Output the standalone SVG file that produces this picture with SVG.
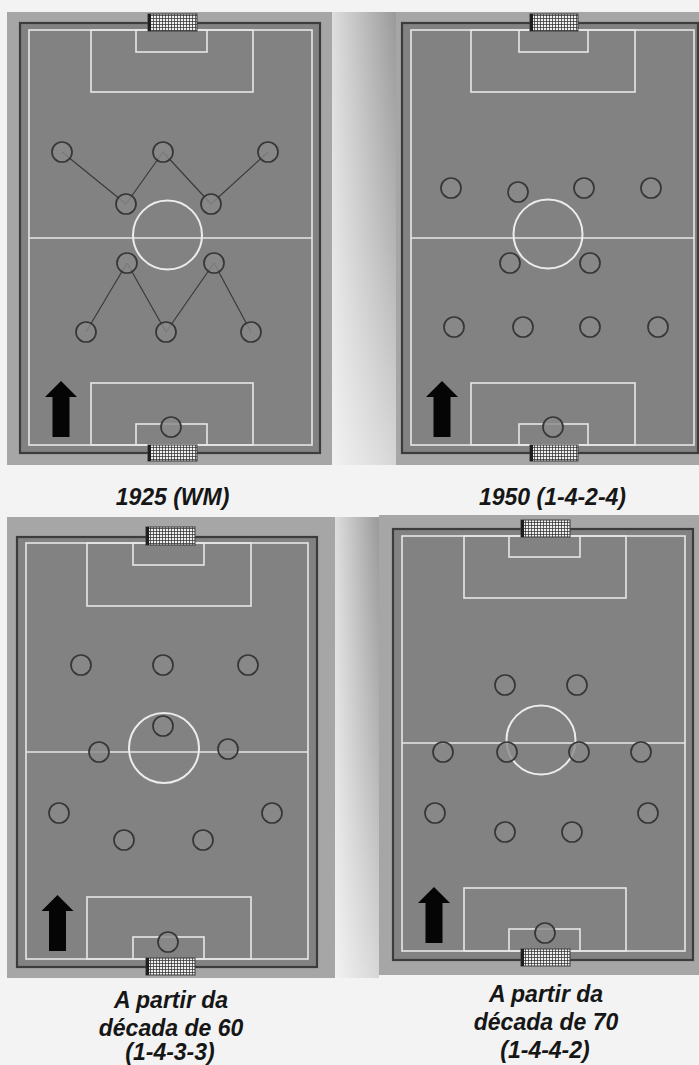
<svg xmlns="http://www.w3.org/2000/svg" width="699" height="1065" viewBox="0 0 699 1065">
<defs>
<style>
.panel{fill:#a6a6a6}
.pitch{fill:#828282;stroke:#3c3c3c;stroke-width:2.2}
.wl{fill:none;stroke:#e6e6e6;stroke-width:1.6}
.cc{fill:none;stroke:#ececec;stroke-width:2}
.pl{fill:#8a8a8a;fill-opacity:0.8;stroke:#363636;stroke-width:1.7}
.net{fill:url(#netpat);stroke:#3a3a3a;stroke-width:1}
.netbar{fill:#1e1e1e}
.arrow{fill:#050505}
.lbl{font-family:"Liberation Sans",Arial,sans-serif;font-size:23px;font-weight:bold;font-style:italic;fill:#161616;text-anchor:middle}
.conn{stroke:#3a3a3a;stroke-width:1.2;fill:none}
</style>
<pattern id="netpat" width="3" height="3" patternUnits="userSpaceOnUse">
<rect width="3" height="3" fill="#efefef"/>
<path d="M0 0.4H3M0.4 0V3" stroke="#2a2a2a" stroke-width="0.8"/>
</pattern>
<linearGradient id="gapH" x1="0" y1="0" x2="1" y2="0">
<stop offset="0" stop-color="#dedede"/>
<stop offset="1" stop-color="#9a9a9a"/>
</linearGradient>
<linearGradient id="fadeV" x1="0" y1="0" x2="0" y2="1">
<stop offset="0" stop-color="#ffffff" stop-opacity="0"/>
<stop offset="0.5" stop-color="#ffffff" stop-opacity="0.25"/>
<stop offset="1" stop-color="#ffffff" stop-opacity="0.6"/>
</linearGradient>
<polygon id="arr" points="0,0 16,16 8.5,16 8.5,56 -8.5,56 -8.5,16 -16,16"/>
</defs>

<rect x="0" y="0" width="699" height="1065" fill="#f3f3f3"/>

<!-- background panels -->
<g id="backgrounds">
<rect class="panel" x="7" y="12" width="325" height="453"/>
<rect x="332" y="12" width="64" height="453" fill="url(#gapH)"/>
<rect x="332" y="12" width="64" height="453" fill="url(#fadeV)"/>
<rect class="panel" x="396" y="12" width="303" height="453"/>
<rect class="panel" x="7" y="517" width="328" height="461"/>
<rect x="335" y="517" width="44" height="461" fill="url(#gapH)"/>
<rect x="335" y="517" width="44" height="461" fill="url(#fadeV)"/>
<rect class="panel" x="379" y="515" width="320" height="460"/>
</g>

<!-- Pitch 1: 1925 (WM) -->
<g id="pitch-1925">
<rect class="pitch" x="20" y="23" width="300" height="430"/>
<rect class="wl" x="29" y="30" width="283" height="415"/>
<line class="wl" x1="29" y1="238" x2="312" y2="238"/>
<circle class="cc" cx="167.5" cy="235" r="34.5"/>
<rect class="wl" x="91" y="30" width="162" height="62"/>
<rect class="wl" x="136" y="30" width="71" height="22"/>
<rect class="wl" x="91" y="383" width="162" height="62"/>
<rect class="wl" x="136" y="424" width="71" height="21"/>
<rect class="net" x="148" y="14" width="49" height="17"/>
<rect class="netbar" x="148" y="14" width="3" height="17"/>
<rect class="net" x="148" y="445" width="49" height="16"/>
<rect class="netbar" x="148" y="445" width="3" height="16"/>
<use href="#arr" class="arrow" x="61" y="381"/>
</g>

<!-- Pitch 2: 1950 (1-4-2-4) -->
<g id="pitch-1950">
<rect class="pitch" x="402" y="23" width="296" height="430"/>
<rect class="wl" x="411" y="30" width="283" height="415"/>
<line class="wl" x1="411" y1="238" x2="694" y2="238"/>
<circle class="cc" cx="548" cy="234" r="34.5"/>
<rect class="wl" x="471" y="30" width="164" height="62"/>
<rect class="wl" x="519" y="30" width="69" height="22"/>
<rect class="wl" x="471" y="383" width="164" height="62"/>
<rect class="wl" x="519" y="424" width="69" height="21"/>
<rect class="net" x="530" y="14" width="48" height="17"/>
<rect class="netbar" x="530" y="14" width="3" height="17"/>
<rect class="net" x="530" y="445" width="48" height="16"/>
<rect class="netbar" x="530" y="445" width="3" height="16"/>
<use href="#arr" class="arrow" x="442" y="381"/>
</g>

<!-- Pitch 3: decada de 60 (1-4-3-3) -->
<g id="pitch-1960">
<rect class="pitch" x="17" y="537" width="300" height="430"/>
<rect class="wl" x="26" y="543" width="282" height="416"/>
<line class="wl" x1="26" y1="752" x2="308" y2="752"/>
<circle class="cc" cx="164" cy="748" r="35"/>
<rect class="wl" x="87" y="543" width="164" height="63"/>
<rect class="wl" x="133" y="543" width="71" height="22"/>
<rect class="wl" x="87" y="897" width="164" height="62"/>
<rect class="wl" x="133" y="937" width="71" height="22"/>
<rect class="net" x="146" y="527" width="49" height="18"/>
<rect class="netbar" x="146" y="527" width="3" height="18"/>
<rect class="net" x="146" y="958" width="49" height="17"/>
<rect class="netbar" x="146" y="958" width="3" height="17"/>
<use href="#arr" class="arrow" x="57.5" y="895"/>
</g>

<!-- Pitch 4: decada de 70 (1-4-4-2) -->
<g id="pitch-1970">
<rect class="pitch" x="393" y="529" width="300" height="431"/>
<rect class="wl" x="402" y="536" width="283" height="415"/>
<line class="wl" x1="402" y1="743" x2="685" y2="743"/>
<circle class="cc" cx="541" cy="740" r="34.5"/>
<rect class="wl" x="464" y="536" width="162" height="62"/>
<rect class="wl" x="509" y="536" width="71" height="21"/>
<rect class="wl" x="464" y="888" width="162" height="63"/>
<rect class="wl" x="509" y="929" width="71" height="22"/>
<rect class="net" x="521" y="520" width="49" height="17"/>
<rect class="netbar" x="521" y="520" width="3" height="17"/>
<rect class="net" x="521" y="949" width="49" height="17"/>
<rect class="netbar" x="521" y="949" width="3" height="17"/>
<use href="#arr" class="arrow" x="434" y="887"/>
</g>

<!-- connectors (WM) -->
<g id="connectors">
<line class="conn" x1="62" y1="152" x2="126" y2="204"/>
<line class="conn" x1="126" y1="204" x2="163" y2="152"/>
<line class="conn" x1="163" y1="152" x2="211" y2="204"/>
<line class="conn" x1="211" y1="204" x2="268" y2="152"/>
<line class="conn" x1="86" y1="332" x2="127" y2="263"/>
<line class="conn" x1="127" y1="263" x2="166" y2="332"/>
<line class="conn" x1="166" y1="332" x2="214" y2="263"/>
<line class="conn" x1="214" y1="263" x2="251" y2="332"/>
</g>

<!-- players -->
<g id="players-1925">
<circle id="wm-1" class="pl" cx="62" cy="152" r="10"/>
<circle id="wm-2" class="pl" cx="163" cy="152" r="10"/>
<circle id="wm-3" class="pl" cx="268" cy="152" r="10"/>
<circle id="wm-4" class="pl" cx="126" cy="204" r="10"/>
<circle id="wm-5" class="pl" cx="211" cy="204" r="10"/>
<circle id="wm-6" class="pl" cx="127" cy="263" r="10"/>
<circle id="wm-7" class="pl" cx="214" cy="263" r="10"/>
<circle id="wm-8" class="pl" cx="86" cy="332" r="10"/>
<circle id="wm-9" class="pl" cx="166" cy="332" r="10"/>
<circle id="wm-10" class="pl" cx="251" cy="332" r="10"/>
<circle id="wm-gk" class="pl" cx="171" cy="427" r="10"/>
</g>
<g id="players-1950">
<circle id="f50-1" class="pl" cx="451" cy="188" r="10"/>
<circle id="f50-2" class="pl" cx="518" cy="192" r="10"/>
<circle id="f50-3" class="pl" cx="584" cy="188" r="10"/>
<circle id="f50-4" class="pl" cx="651" cy="188" r="10"/>
<circle id="f50-5" class="pl" cx="510" cy="263" r="10"/>
<circle id="f50-6" class="pl" cx="590" cy="263" r="10"/>
<circle id="f50-7" class="pl" cx="454" cy="327" r="10"/>
<circle id="f50-8" class="pl" cx="523" cy="327" r="10"/>
<circle id="f50-9" class="pl" cx="590" cy="327" r="10"/>
<circle id="f50-10" class="pl" cx="658" cy="327" r="10"/>
<circle id="f50-gk" class="pl" cx="553" cy="427" r="10"/>
</g>
<g id="players-1960">
<circle id="f60-1" class="pl" cx="81" cy="665" r="10"/>
<circle id="f60-2" class="pl" cx="163" cy="665" r="10"/>
<circle id="f60-3" class="pl" cx="248" cy="665" r="10"/>
<circle id="f60-4" class="pl" cx="163" cy="726" r="10"/>
<circle id="f60-5" class="pl" cx="99" cy="752" r="10"/>
<circle id="f60-6" class="pl" cx="228" cy="749" r="10"/>
<circle id="f60-7" class="pl" cx="59" cy="813" r="10"/>
<circle id="f60-8" class="pl" cx="272" cy="813" r="10"/>
<circle id="f60-9" class="pl" cx="124" cy="840" r="10"/>
<circle id="f60-10" class="pl" cx="203" cy="840" r="10"/>
<circle id="f60-gk" class="pl" cx="168" cy="942" r="10"/>
</g>
<g id="players-1970">
<circle id="f70-1" class="pl" cx="505" cy="685" r="10"/>
<circle id="f70-2" class="pl" cx="577" cy="685" r="10"/>
<circle id="f70-3" class="pl" cx="443" cy="752" r="10"/>
<circle id="f70-4" class="pl" cx="507" cy="752" r="10"/>
<circle id="f70-5" class="pl" cx="579" cy="752" r="10"/>
<circle id="f70-6" class="pl" cx="641" cy="752" r="10"/>
<circle id="f70-7" class="pl" cx="435" cy="813" r="10"/>
<circle id="f70-8" class="pl" cx="648" cy="813" r="10"/>
<circle id="f70-9" class="pl" cx="505" cy="832" r="10"/>
<circle id="f70-10" class="pl" cx="572" cy="832" r="10"/>
<circle id="f70-gk" class="pl" cx="545" cy="933" r="10"/>
</g>

<!-- labels -->
<g id="labels">
<text class="lbl" x="172.5" y="505">1925 (WM)</text>
<text class="lbl" x="552.5" y="505">1950 (1-4-2-4)</text>
<text class="lbl" x="171" y="1008">A partir da</text>
<text class="lbl" x="171" y="1036">década de 60</text>
<text class="lbl" x="170" y="1060">(1-4-3-3)</text>
<text class="lbl" x="546" y="1002">A partir da</text>
<text class="lbl" x="546" y="1030">década de 70</text>
<text class="lbl" x="545" y="1058">(1-4-4-2)</text>
</g>
</svg>
